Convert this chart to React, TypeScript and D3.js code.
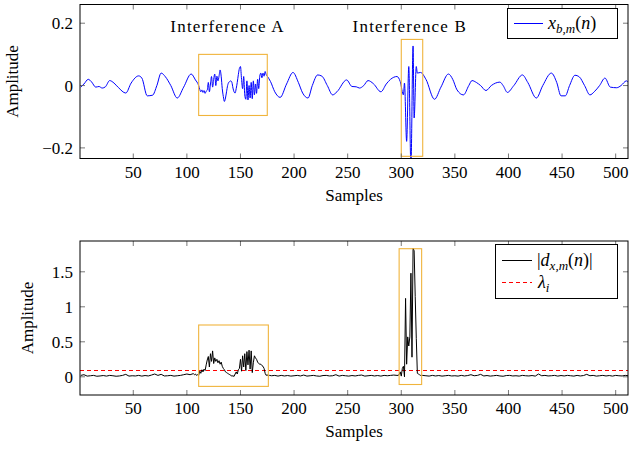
import React from "react";
import * as d3 from "d3";

// ---------- data ----------
// top panel: x_{b,m}(n) key samples [n, amplitude]
const xbmPoints: [number, number][] = [
  [1, -0.005], [4, 0.005], [8, 0.02], [11, 0.012], [15, -0.005], [18, -0.003], [21, -0.008], [24, -0.004],
  [28, 0.016], [32, 0.008], [36, -0.006], [43, -0.024], [48, 0.008], [55, 0.031], [58, 0.024], [63, -0.033],
  [68, -0.031], [72, 0.0], [76, 0.04], [80, 0.028], [85, 0.0], [91, -0.04], [97, -0.005], [104, 0.037], [108, 0.018],
  [111, 0.0], [112, -0.012], [113, -0.02], [114, -0.014], [115, -0.022], [116, -0.016], [117, -0.025], [118, -0.018],
  [119, -0.015], [120, 0.01], [121, -0.02], [122, 0.005], [123, 0.029], [124, -0.005], [125, 0.02], [126, 0.037],
  [127, 0.0], [128, 0.03], [129, 0.015], [130, 0.03], [131, 0.05], [132, 0.03], [133, -0.01], [134, -0.035],
  [135, -0.051], [136, -0.04], [137, -0.02], [138, 0.0], [139, 0.01], [140, 0.013], [141, 0.015], [142, 0.01],
  [143, -0.008], [144, -0.02], [145, -0.024], [146, -0.01], [147, 0.01], [148, 0.035], [149, 0.055], [150, 0.061],
  [151, 0.02], [152, -0.01], [153, 0.029], [154, -0.03], [155, -0.044], [156, 0.015], [157, -0.046], [158, 0.0],
  [159, -0.04], [160, 0.01], [161, -0.042], [162, 0.015], [163, -0.03], [164, 0.005], [165, -0.025], [166, 0.02],
  [167, -0.01], [168, 0.03], [169, 0.04], [170, 0.025], [171, 0.04], [172, 0.03], [173, 0.045], [174, 0.035], [175, 0.03],
  [178, 0.013], [182, -0.02], [187, -0.038], [193, 0.005], [199, 0.042], [204, 0.01], [208, -0.024], [213, -0.04],
  [217, 0.0], [222, 0.034], [226, 0.03], [231, 0.0], [236, -0.03], [240, -0.02], [249, 0.018], [254, -0.003],
  [258, -0.004], [261, -0.008], [265, 0.0], [269, 0.016], [274, 0.006], [281, -0.02], [286, 0.005], [290, 0.02],
  [296, 0.029], [299, 0.013],
  [302, -0.03], [303, 0.008], [305, -0.179], [307, 0.061], [309, -0.26], [311, 0.127], [312, -0.104], [314, 0.061],
  [315, 0.04], [318, 0.042],
  [323, 0.02], [331, -0.044], [337, -0.005], [344, 0.037], [348, 0.02], [352, -0.014], [358, -0.03], [363, 0.0],
  [366, 0.016], [370, 0.01], [374, 0.0], [379, -0.016], [384, 0.0], [388, 0.008], [392, 0.011], [395, 0.0],
  [399, -0.022], [405, 0.0], [413, 0.034], [418, 0.01], [426, -0.04], [432, 0.0], [440, 0.04], [445, 0.01],
  [449, -0.033], [453, -0.033], [457, 0.0], [462, 0.033], [466, 0.028], [471, 0.0], [476, -0.03], [480, -0.02],
  [485, 0.0], [490, 0.024], [495, -0.005], [501, -0.007], [505, 0.0], [510, 0.015], [512, 0.009],
];

// bottom panel: |d_{x,m}(n)| in segments (start sample, step, values)
const dNoiseStart = [0.02, 0.03, 0.01, 0.015, 0.02, 0.008, 0.012, 0.018, 0.01, 0.02, 0.015, 0.008, 0.012, 0.02, 0.035,
  0.01, 0.015, 0.012, 0.02, 0.01, 0.018, 0.012, 0.025, 0.04, 0.02, 0.035, 0.012, 0.015, 0.02, 0.01, 0.015, 0.02, 0.03,
  0.04, 0.03, 0.045];
const dInterfA = [0.03, 0.04, 0.02, 0.03, 0.02, 0.08, 0.05, 0.1, 0.07, 0.11, 0.09, 0.17, 0.24, 0.29, 0.14, 0.33, 0.22,
  0.37, 0.19, 0.27, 0.22, 0.25, 0.2, 0.23, 0.18, 0.21, 0.15, 0.12, 0.1, 0.07, 0.06, 0.05, 0.04, 0.03, 0.02, 0.01,
  0.015, 0.005, 0.04, 0.07, 0.04, 0.1, 0.12, 0.25, 0.08, 0.3, 0.14, 0.33, 0.09, 0.36, 0.17, 0.38, 0.11, 0.37, 0.06,
  0.2, 0.3, 0.27, 0.25, 0.21, 0.19, 0.18, 0.18, 0.16, 0.15, 0.12, 0.05, 0.02, 0.03, 0.01, 0.02];
const dNoiseMid = [0.015, 0.02, 0.01, 0.02, 0.012, 0.018, 0.01, 0.015, 0.02, 0.012, 0.025, 0.01, 0.015, 0.02, 0.012,
  0.008, 0.018, 0.02, 0.012, 0.015, 0.03, 0.01, 0.02, 0.015, 0.01, 0.018, 0.012, 0.02, 0.025, 0.01, 0.015, 0.02,
  0.012, 0.018, 0.01, 0.02, 0.015, 0.02, 0.025, 0.02];
const dInterfB = [0.02, 0.03, 0.07, 0.01, 0.12, 0.15, 0.0, 1.12, 0.18, 0.57, 0.44, 0.57, 1.48, 0.28, 1.84, 1.8, 1.15,
  0.55, 0.05, 0.04, 0.03, 0.02];
const dNoiseEnd = [0.02, 0.015, 0.01, 0.02, 0.012, 0.018, 0.01, 0.015, 0.02, 0.012, 0.015, 0.01, 0.02, 0.012, 0.018,
  0.03, 0.015, 0.02, 0.035, 0.012, 0.018, 0.01, 0.015, 0.02, 0.012, 0.008, 0.018, 0.02, 0.012, 0.015, 0.01, 0.02,
  0.015, 0.012, 0.018, 0.01, 0.04, 0.015, 0.02, 0.012, 0.015, 0.02, 0.01, 0.018, 0.012, 0.02, 0.015, 0.01, 0.02,
  0.012, 0.018, 0.035, 0.015, 0.02, 0.01, 0.015, 0.02, 0.012, 0.018, 0.01, 0.02, 0.015, 0.012, 0.02, 0.015];
const dSegments = [
  { start: 1, step: 3, values: dNoiseStart },
  { start: 107, step: 1, values: dInterfA },
  { start: 179, step: 3, values: dNoiseMid },
  { start: 297, step: 1, values: dInterfB },
  { start: 320, step: 3, values: dNoiseEnd },
];
const threshold = 0.09; // lambda_i

const xTicks = [50, 100, 150, 200, 250, 300, 350, 400, 450, 500];
const yTicksTop = [-0.2, 0, 0.2];
const yTicksBot = [0, 0.5, 1, 1.5];
const annotations = ["Interference A", "Interference B"];
const annotationAt = [138, 308];
const boxesTop = [
  { x0: 111, x1: 175, y0: -0.096, y1: 0.1 },
  { x0: 300, x1: 320, y0: -0.227, y1: 0.148 },
];
const boxesBot = [
  { x0: 111, x1: 176, y0: -0.137, y1: 0.74 },
  { x0: 298, x1: 319, y0: -0.11, y1: 1.83 },
];

// ---------- layout ----------
const W = 629;
const H = 449;
const L = 80;
const R = 628;
const FONT = "'Liberation Serif', 'Times New Roman', serif";
const FS = 17;
const LFS = 18;
const ORANGE = "#f0b43c";

const x = d3.scaleLinear().domain([0.3, 511.5]).range([L, R]);
const yTop = d3.scaleLinear().domain([-0.234, 0.26]).range([158.5, 4.5]);
const yBot = d3.scaleLinear().domain([-0.26, 1.94]).range([395, 241]);

const fmt = (v: number) => (v < 0 ? "\u2212" + String(Math.abs(v)) : String(v));

function Frame({ y, ticksY }: { y: d3.ScaleLinear<number, number>; ticksY: number[] }) {
  const [b, t] = y.range();
  const tl = 5;
  return (
    <g>
      {xTicks.map((v) => (
        <g key={"x" + v}>
          <line x1={x(v)} x2={x(v)} y1={b} y2={b - tl} stroke="#555" strokeWidth={0.8} />
          <line x1={x(v)} x2={x(v)} y1={t} y2={t + tl} stroke="#555" strokeWidth={0.8} />
          <text x={x(v)} y={b + 19} textAnchor="middle" fontSize={FS} fontFamily={FONT}>
            {v}
          </text>
        </g>
      ))}
      {ticksY.map((v) => (
        <g key={"y" + v}>
          <line x1={L} x2={L + tl} y1={y(v)} y2={y(v)} stroke="#555" strokeWidth={0.8} />
          <line x1={R} x2={R - tl} y1={y(v)} y2={y(v)} stroke="#555" strokeWidth={0.8} />
          <text x={73} y={y(v) + 6} textAnchor="end" fontSize={FS} fontFamily={FONT}>
            {fmt(v)}
          </text>
        </g>
      ))}
      <rect x={L} y={t} width={R - L} height={b - t} fill="none" stroke="#000" strokeWidth={1} />
    </g>
  );
}

export default function App() {
  const topLine = d3
    .line<[number, number]>()
    .x((d) => x(d[0]))
    .y((d) => yTop(d[1]))
    .curve(d3.curveMonotoneX);
  const dSeries: [number, number][] = dSegments.flatMap((s) =>
    s.values.map((v, i) => [s.start + i * s.step, v] as [number, number])
  );
  const botLine = d3
    .line<[number, number]>()
    .x((d) => x(d[0]))
    .y((d) => yBot(d[1]));

  const sub = 13;
  return (
    <svg width={W} height={H} style={{ position: "absolute", left: 0, top: 0, background: "#fff" }}>
      <defs>
        <clipPath id="clipTop">
          <rect x={L} y={4.5} width={R - L} height={154} />
        </clipPath>
        <clipPath id="clipBot">
          <rect x={L} y={241} width={R - L} height={154} />
        </clipPath>
      </defs>

      {/* ---------- top panel ---------- */}
      <g clipPath="url(#clipTop)">
        <path d={topLine(xbmPoints) || ""} fill="none" stroke="#0000ff" strokeWidth={1} strokeLinejoin="round" />
      </g>
      {boxesTop.map((bx, i) => (
        <rect key={i} x={x(bx.x0)} y={yTop(bx.y1)} width={x(bx.x1) - x(bx.x0)} height={yTop(bx.y0) - yTop(bx.y1)}
          fill="none" stroke={ORANGE} strokeWidth={1.1} />
      ))}
      <Frame y={yTop} ticksY={yTicksTop} />
      {annotations.map((a, i) => (
        <text key={a} x={x(annotationAt[i])} y={31.5} textAnchor="middle" fontSize={FS} fontFamily={FONT} letterSpacing={1.2}>
          {a}
        </text>
      ))}
      <text transform={`translate(18,${yTop(0.013)}) rotate(-90)`} textAnchor="middle" fontSize={FS} fontFamily={FONT}>
        Amplitude
      </text>
      <text x={(L + R) / 2} y={201} textAnchor="middle" fontSize={FS} fontFamily={FONT}>
        Samples
      </text>
      {/* legend top */}
      <rect x={507.5} y={8.5} width={110} height={30} fill="#fff" stroke="#000" strokeWidth={1} />
      <line x1={514} x2={543} y1={23.5} y2={23.5} stroke="#0000ff" strokeWidth={1} />
      <text x={548} y={28.5} fontSize={LFS} fontFamily={FONT}>
        <tspan fontStyle="italic">x</tspan>
        <tspan fontStyle="italic" fontSize={sub} dy={4}>b,m</tspan>
        <tspan dy={-4}>(</tspan>
        <tspan fontStyle="italic">n</tspan>
        <tspan>)</tspan>
      </text>

      {/* ---------- bottom panel ---------- */}
      <g clipPath="url(#clipBot)">
        <line x1={L} x2={R} y1={yBot(threshold)} y2={yBot(threshold)} stroke="#ff0000" strokeWidth={1} strokeDasharray="4,3" />
        <path d={botLine(dSeries) || ""} fill="none" stroke="#000" strokeWidth={1} strokeLinejoin="round" />
      </g>
      {boxesBot.map((bx, i) => (
        <rect key={i} x={x(bx.x0)} y={yBot(bx.y1)} width={x(bx.x1) - x(bx.x0)} height={yBot(bx.y0) - yBot(bx.y1)}
          fill="none" stroke={ORANGE} strokeWidth={1.1} />
      ))}
      <Frame y={yBot} ticksY={yTicksBot} />
      <text transform={`translate(33,${yBot(0.84)}) rotate(-90)`} textAnchor="middle" fontSize={FS} fontFamily={FONT}>
        Amplitude
      </text>
      <text x={(L + R) / 2} y={436.5} textAnchor="middle" fontSize={FS} fontFamily={FONT}>
        Samples
      </text>
      {/* legend bottom */}
      <rect x={495.5} y={244.5} width={122} height={54} fill="#fff" stroke="#000" strokeWidth={1} />
      <line x1={502} x2={532} y1={260.5} y2={260.5} stroke="#000" strokeWidth={1} />
      <line x1={502} x2={532} y1={282.5} y2={282.5} stroke="#ff0000" strokeWidth={1} strokeDasharray="4,3" />
      <text x={537} y={266} fontSize={LFS} fontFamily={FONT}>
        <tspan>|</tspan>
        <tspan fontStyle="italic">d</tspan>
        <tspan fontStyle="italic" fontSize={sub} dy={4}>x,m</tspan>
        <tspan dy={-4}>(</tspan>
        <tspan fontStyle="italic">n</tspan>
        <tspan>)|</tspan>
      </text>
      <text x={538} y={288} fontSize={LFS} fontFamily={FONT}>
        <tspan fontStyle="italic">λ</tspan>
        <tspan fontStyle="italic" fontSize={sub} dy={4}>i</tspan>
      </text>
    </svg>
  );
}
